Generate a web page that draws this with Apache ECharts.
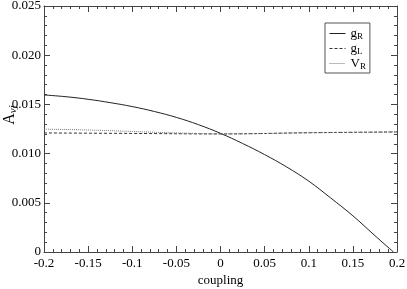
<!DOCTYPE html>
<html>
<head>
<meta charset="utf-8">
<script src="https://cdn.jsdelivr.net/npm/echarts@6/dist/echarts.min.js"></script>
<style>html,body{margin:0;padding:0;background:#fff}#c{width:407px;height:289px}</style>
</head>
<body>
<div id="c"></div>
<script>
var couplingGR = [-0.2, -0.175, -0.15, -0.125, -0.1, -0.075, -0.05, -0.025, 0, 0.025, 0.05, 0.075, 0.1, 0.125, 0.15, 0.175, 0.196];
var valuesGR   = [0.01596, 0.01578, 0.01552, 0.01518, 0.01478, 0.01428, 0.01368, 0.01294, 0.01206, 0.01103, 0.00990, 0.00864, 0.00720, 0.00548, 0.00368, 0.00166, 0.0];
var couplingGL = [-0.2, -0.1, 0, 0.1, 0.2];
var valuesGL   = [0.0121, 0.01205, 0.0120, 0.01212, 0.0122];
var couplingVR = [-0.2, -0.15, -0.1, -0.05, 0, 0.1, 0.2];
var valuesVR   = [0.01248, 0.0124, 0.01225, 0.0121, 0.0120, 0.01212, 0.0122];
var xTicks = [-0.2, -0.15, -0.1, -0.05, 0, 0.05, 0.1, 0.15, 0.2];
var yTicks = [0, 0.005, 0.010, 0.015, 0.020, 0.025];

function pairs(xs, ys) { return xs.map(function (x, i) { return [x, ys[i]]; }); }

var FONT = "'Liberation Serif', 'Times New Roman', serif";
var AX = '#444';
var chart = echarts.init(document.getElementById('c'));
var baseX = {
  type: 'value', min: -0.2, max: 0.2, interval: 0.05,
  axisLine: { show: true, onZero: false, lineStyle: { color: AX, width: 1 } },
  axisTick: { show: true, inside: true, length: 6, lineStyle: { color: AX } },
  minorTick: { show: true, splitNumber: 5, length: 3, lineStyle: { color: AX } },
  splitLine: { show: false }
};
var baseY = {
  type: 'value', min: 0, max: 0.025, interval: 0.005,
  axisLine: { show: true, onZero: false, lineStyle: { color: AX, width: 1 } },
  axisTick: { show: true, inside: true, length: 6, lineStyle: { color: AX } },
  minorTick: { show: true, splitNumber: 5, length: 3, lineStyle: { color: AX } },
  splitLine: { show: false }
};
chart.setOption({
  animation: false,
  grid: { left: 44, right: 10, top: 6, bottom: 37, containLabel: false, outerBoundsMode: 'none' },
  xAxis: [
    Object.assign({}, baseX, {
      position: 'bottom',
      name: 'coupling', nameLocation: 'middle', nameGap: 22, nameMoveOverlap: false,
      nameTextStyle: { fontFamily: FONT, fontSize: 13, color: '#000' },
      axisLabel: { fontFamily: FONT, fontSize: 13, color: '#000', margin: 5,
        formatter: function (v) { var r = xTicks.filter(function (t) { return Math.abs(t - v) < 1e-9; }); return r.length ? String(r[0]) : ''; } }
    }),
    Object.assign({}, baseX, { position: 'top', axisLabel: { show: false } })
  ],
  yAxis: [
    Object.assign({}, baseY, {
      position: 'left',
      name: '{a|A}{s|νj}', nameLocation: 'middle', nameGap: 25, nameRotate: 90, nameMoveOverlap: false,
      nameTextStyle: { color: '#000', padding: [0, 0, 0, 28],
        rich: { a: { fontFamily: FONT, fontSize: 16, color: '#000' },
                s: { fontFamily: FONT, fontSize: 11, fontStyle: 'italic', color: '#000', padding: [7, 0, 0, 0] } } },
      axisLabel: { fontFamily: FONT, fontSize: 13, color: '#000', margin: 3,
        formatter: function (v) { var r = yTicks.filter(function (t) { return Math.abs(t - v) < 1e-9; }); return r.length ? (r[0] === 0 ? '0' : r[0].toFixed(3)) : ''; } }
    }),
    Object.assign({}, baseY, { position: 'right', axisLabel: { show: false } })
  ],
  legend: {
    orient: 'vertical', left: 325, top: 23, width: 46,
    padding: [4, 4, 2, 4], itemGap: 1, itemWidth: 16, itemHeight: 10,
    borderColor: '#555', borderWidth: 1, backgroundColor: '#fff',
    itemStyle: { opacity: 0 },
    lineStyle: { width: 1 },
    data: ['gR', 'gL', 'VR'],
    formatter: function (n) { return '{b|' + n.charAt(0) + '}{s|' + n.charAt(1) + '}'; },
    textStyle: { color: '#000',
      rich: { b: { fontFamily: FONT, fontSize: 13, color: '#000' },
              s: { fontFamily: FONT, fontSize: 9, color: '#000', padding: [6, 0, 0, 0] } } }
  },
  series: [
    { name: 'gR', type: 'line', data: pairs(couplingGR, valuesGR), symbol: 'none', smooth: 0.4,
      lineStyle: { color: '#222', width: 1, type: 'solid' }, itemStyle: { color: '#222' } },
    { name: 'gL', type: 'line', data: pairs(couplingGL, valuesGL), symbol: 'none', smooth: 0.4,
      lineStyle: { color: '#333', width: 1, type: [3, 2] }, itemStyle: { color: '#333' } },
    { name: 'VR', type: 'line', data: pairs(couplingVR, valuesVR), symbol: 'none', smooth: 0.4,
      lineStyle: { color: '#777', width: 1, type: [1, 1] }, itemStyle: { color: '#777' } }
  ]
});
</script>
</body>
</html>
